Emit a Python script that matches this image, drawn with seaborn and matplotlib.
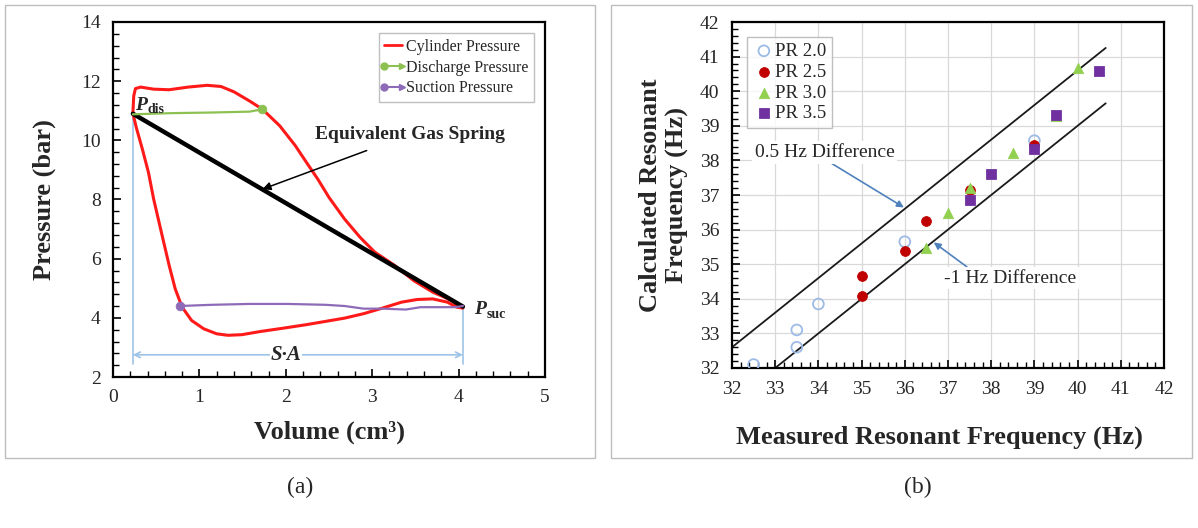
import numpy as np
import pandas as pd
import matplotlib
matplotlib.use("Agg")
import matplotlib.pyplot as plt
from matplotlib.lines import Line2D
from matplotlib.legend_handler import HandlerBase
from matplotlib.patches import Rectangle
import seaborn as sns

# ---------------- data: panel (a) ----------------
cyl_vol = [0.23, 0.24, 0.26, 0.32, 0.47, 0.65, 0.87, 1.09, 1.25, 1.40, 1.58, 1.73, 1.93, 2.11,
           2.24, 2.37, 2.50, 2.68, 2.86, 3.03, 3.26, 3.48, 3.70, 3.92, 4.05,
           3.98, 3.87, 3.70, 3.52, 3.34, 3.12, 2.90, 2.68, 2.46, 2.24, 1.97, 1.71, 1.49, 1.33,
           1.20, 1.05, 0.91, 0.80, 0.72, 0.65, 0.56, 0.47, 0.41, 0.34, 0.27, 0.23]
cyl_p = [10.91, 11.50, 11.75, 11.80, 11.73, 11.71, 11.80, 11.86, 11.82, 11.64, 11.33, 11.05, 10.49, 9.82,
         9.25, 8.69, 8.07, 7.34, 6.72, 6.22, 5.77, 5.26, 4.87, 4.59, 4.33,
         4.36, 4.53, 4.64, 4.62, 4.53, 4.33, 4.14, 3.99, 3.88, 3.77, 3.65, 3.54, 3.43, 3.41,
         3.46, 3.63, 3.91, 4.36, 4.98, 5.77, 6.89, 8.02, 8.92, 9.70, 10.43, 10.91]
dis_vol = [0.23, 0.69, 1.14, 1.58, 1.73]
dis_p = [10.88, 10.92, 10.94, 10.97, 11.05]
suc_vol = [0.77, 1.14, 1.58, 2.02, 2.46, 2.68, 2.90, 3.12, 3.39, 3.56, 3.79, 3.96, 4.05]
suc_p = [4.40, 4.44, 4.47, 4.47, 4.44, 4.40, 4.31, 4.31, 4.28, 4.36, 4.36, 4.36, 4.40]
spring_vol = [0.23, 4.05]
spring_p = [10.90, 4.38]

# ---------------- data: panel (b) ----------------
pr20_meas = [32.5, 33.5, 33.5, 34.0, 36.0, 39.0]
pr20_calc = [32.1, 33.1, 32.6, 33.85, 35.65, 38.57]
pr25_meas = [35.0, 35.0, 36.0, 36.5, 37.5, 39.0]
pr25_calc = [34.67, 34.07, 35.38, 36.26, 37.15, 38.45]
pr30_meas = [36.5, 37.0, 37.5, 38.5, 39.5, 40.0]
pr30_calc = [35.47, 36.47, 37.19, 38.2, 39.27, 40.66]
pr35_meas = [37.5, 38.0, 39.0, 39.5, 40.5]
pr35_calc = [36.86, 37.6, 38.33, 39.32, 40.59]
upper_x = [32.0, 40.65]
upper_off = 0.6
lower_x = [33.0, 40.65]
lower_off = -1.0

sns.set_style("white")
SERIF = ["Liberation Serif", "DejaVu Serif"]
plt.rcParams["font.family"] = SERIF
plt.rcParams["axes.linewidth"] = 1.6

fig = plt.figure(figsize=(11.98, 5.28), dpi=100)
W, H = 1198, 528

def fr(x0, y0, x1, y1):
    return [x0 / W, 1 - y1 / H, (x1 - x0) / W, (y1 - y0) / H]

# panel frames
for (x0, y0, x1, y1) in [(5, 5, 595, 458), (611, 5, 1192, 458)]:
    fig.patches.append(Rectangle((x0 / W, 1 - y1 / H), (x1 - x0) / W, (y1 - y0) / H,
                                 transform=fig.transFigure, fill=False,
                                 edgecolor="#bdbdbd", lw=1.0))

axA = fig.add_axes(fr(113, 22, 545, 377))
axB = fig.add_axes(fr(732, 22, 1164, 368))

RED = "#ff1a1a"
GREEN = "#8cc152"
PURPLE = "#8e6bb8"
LBLUE = "#9dc3e6"

# ---- panel (a) ----
dfc = pd.DataFrame({"v": cyl_vol, "p": cyl_p})
sns.lineplot(data=dfc, x="v", y="p", sort=False, estimator=None, color=RED, lw=2.2, ax=axA)
sns.lineplot(x=spring_vol, y=spring_p, sort=False, estimator=None, color="black", lw=3.2, ax=axA)
sns.lineplot(x=dis_vol, y=dis_p, sort=False, estimator=None, color=GREEN, lw=1.6, ax=axA)
sns.scatterplot(x=[dis_vol[-1]], y=[dis_p[-1]], color=GREEN, s=40, edgecolor=GREEN, ax=axA, zorder=5)
sns.lineplot(x=suc_vol, y=suc_p, sort=False, estimator=None, color=PURPLE, lw=1.6, ax=axA)
sns.scatterplot(x=[suc_vol[0]], y=[suc_p[0]], color=PURPLE, s=40, edgecolor=PURPLE, ax=axA, zorder=5)

# S*A dimension lines
axA.plot([spring_vol[0], spring_vol[0]], [spring_p[0], 2.45], color=LBLUE, lw=1.2, zorder=1)
axA.plot([spring_vol[1], spring_vol[1]], [spring_p[1], 2.45], color=LBLUE, lw=1.2, zorder=1)
axA.annotate("", xy=(spring_vol[0], 2.75), xytext=(spring_vol[1], 2.75),
             arrowprops=dict(arrowstyle="<->", color=LBLUE, lw=1.2, shrinkA=0, shrinkB=0))
axA.text(2.0, 2.75, "S·A", fontsize=15, fontweight="bold", fontstyle="italic",
         ha="center", va="center", bbox=dict(facecolor="white", edgecolor="none", pad=0.5))

axA.text(0.25, 11.02, "P", fontsize=14, fontweight="bold", fontstyle="italic", ha="left", va="baseline")
axA.text(0.40, 10.93, "dis", fontsize=10, fontweight="bold", ha="left", va="baseline")
axA.text(4.18, 4.12, "P", fontsize=14, fontweight="bold", fontstyle="italic", ha="left", va="baseline")
axA.text(4.33, 3.98, "suc", fontsize=10, fontweight="bold", ha="left", va="baseline")

axA.annotate("Equivalent Gas Spring", xy=(1.73, 8.35), xytext=(3.44, 10.2),
             fontsize=14, fontweight="bold", ha="center", va="center",
             arrowprops=dict(arrowstyle="-|>", color="black", lw=1.1, mutation_scale=12,
                             shrinkA=9, shrinkB=0))

axA.set_xlim(0, 5)
axA.set_ylim(2, 14)
axA.set_xticks(np.arange(0, 6, 1))
axA.set_yticks(np.arange(2, 15, 2))
axA.set_xticks(np.arange(0, 5.01, 0.2), minor=True)
axA.set_yticks(np.arange(2, 14.01, 0.4), minor=True)
axA.set_xlabel("Volume (cm³)", fontsize=19, fontweight="bold", labelpad=10)
axA.set_ylabel("Pressure (bar)", fontsize=19, fontweight="bold", labelpad=18)


class DotArrow(HandlerBase):
    def __init__(self, color):
        super().__init__()
        self.c = color

    def create_artists(self, legend, orig_handle, xdescent, ydescent, width, height, fontsize, trans):
        y = height / 2 - ydescent
        x0, x1 = -xdescent, width - xdescent
        ln = Line2D([x0, x1], [y, y], color=self.c, lw=1.5)
        m1 = Line2D([x0], [y], marker="o", color=self.c, ms=5, lw=0)
        m2 = Line2D([x1], [y], marker=">", color=self.c, ms=5, lw=0)
        for a in (ln, m1, m2):
            a.set_transform(trans)
        return [ln, m1, m2]


h_cyl = Line2D([], [], color=RED, lw=2)
h_dis = Line2D([], [], color=GREEN)
h_suc = Line2D([], [], color=PURPLE)
legA = axA.legend([h_cyl, h_dis, h_suc], ["Cylinder Pressure", "Discharge Pressure", "Suction Pressure"],
                  handler_map={h_dis: DotArrow(GREEN), h_suc: DotArrow(PURPLE)},
                  loc="upper right", fontsize=11.5, frameon=True, fancybox=False, edgecolor="#b0b0b0",
                  handlelength=1.1, handletextpad=0.25, borderpad=0.35, labelspacing=0.3,
                  borderaxespad=0.7)
legA.get_frame().set_linewidth(1.0)

# ---- panel (b) ----
axB.grid(True, which="major", color="#d9d9d9", lw=0.9)
axB.set_axisbelow(True)
ux = np.array(upper_x)
lx = np.array(lower_x)
axB.plot(ux, ux + upper_off, color="#1a1a1a", lw=1.3, zorder=2)
axB.plot(lx, lx + lower_off, color="#1a1a1a", lw=1.3, zorder=2)

sns.scatterplot(x=pr20_meas, y=pr20_calc, marker="o", s=60, facecolor="none", edgecolor="#9dbbe6",
                linewidth=1.3, label="PR 2.0", ax=axB, zorder=3)
sns.scatterplot(x=pr25_meas, y=pr25_calc, marker="o", s=50, color="#c00000", edgecolor="#c00000",
                label="PR 2.5", ax=axB, zorder=3)
sns.scatterplot(x=pr30_meas, y=pr30_calc, marker="^", s=55, color="#92d050", edgecolor="#92d050",
                label="PR 3.0", ax=axB, zorder=3)
sns.scatterplot(x=pr35_meas, y=pr35_calc, marker="s", s=50, color="#7030a0", edgecolor="#7030a0",
                label="PR 3.5", ax=axB, zorder=3)

ARW = "#4f81bd"
axB.annotate("0.5 Hz Difference", xy=(35.98, 36.64), xytext=(32.53, 38.23), fontsize=14,
             ha="left", va="center", bbox=dict(facecolor="white", edgecolor="none", pad=2),
             arrowprops=dict(arrowstyle="-|>", color=ARW, lw=1.2, mutation_scale=10,
                             shrinkA=0, shrinkB=0, relpos=(0.52, 0.0)))
axB.annotate("-1 Hz Difference", xy=(36.67, 35.63), xytext=(36.91, 34.6), fontsize=14,
             ha="left", va="center", bbox=dict(facecolor="white", edgecolor="none", pad=2),
             arrowprops=dict(arrowstyle="-|>", color=ARW, lw=1.2, mutation_scale=10,
                             shrinkA=0, shrinkB=0, relpos=(0.2, 1.0)))

axB.set_xlim(32, 42)
axB.set_ylim(32, 42)
axB.set_xticks(np.arange(32, 43, 1))
axB.set_yticks(np.arange(32, 43, 1))
axB.set_xticks(np.arange(32, 42.01, 0.2), minor=True)
axB.set_yticks(np.arange(32, 42.01, 0.2), minor=True)
axB.set_xlabel("Measured Resonant Frequency (Hz)", fontsize=19, fontweight="bold", labelpad=18)
axB.xaxis.set_label_coords(0.48, -0.165)
axB.set_ylabel("Calculated Resonant\nFrequency (Hz)", fontsize=19, fontweight="bold", labelpad=8,
               linespacing=1.2)
legB = axB.legend(loc="upper left", fontsize=13.5, frameon=True, fancybox=False, edgecolor="#b0b0b0",
                  handletextpad=0.0, borderpad=0.3, labelspacing=0.2, borderaxespad=0.8,
                  handlelength=1.2)
legB.get_frame().set_linewidth(1.0)

for ax in (axA, axB):
    ax.tick_params(which="both", direction="in", bottom=True, left=True, top=False, right=False,
                   labelsize=14, pad=9, color="black")
    ax.tick_params(which="major", length=6, width=1.2)
    ax.tick_params(which="minor", length=4, width=1.0)
    for sp in ax.spines.values():
        sp.set_visible(True)
        sp.set_color("black")
        sp.set_linewidth(1.6)

fig.text(300 / W, 1 - 487 / H, "(a)", fontsize=17, ha="center", va="center")
fig.text(918 / W, 1 - 487 / H, "(b)", fontsize=17, ha="center", va="center")

fig.savefig("out.png", dpi=100, facecolor="white")
